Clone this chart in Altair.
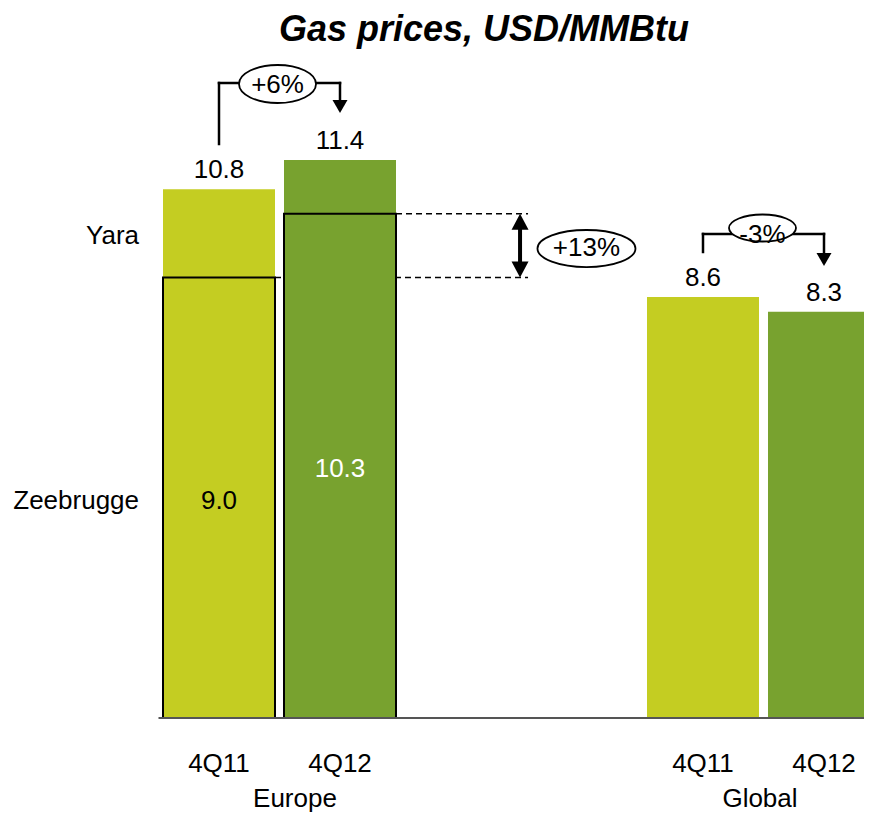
import altair as alt
import pandas as pd

# ---------------- data ----------------
slots = [0, 1, 4, 5]
periods = ["4Q11", "4Q12", "4Q11", "4Q12"]
regions = ["Europe", "Europe", "Global", "Global"]
totals = [10.8, 11.4, 8.6, 8.3]

zeebrugge_slots = [0, 1]
zeebrugge_periods = ["4Q11", "4Q12"]
zeebrugge = [9.0, 10.3]

row_labels = ["Yara", "Zeebrugge"]
row_label_y = [9.9, 4.5]
group_labels = ["Europe", "Global"]
group_label_x = [0.628, 4.471]

change_labels = ["+6%", "-3%", "+13%"]
change_x = [0.4835, 4.4917, 3.037]
change_y = [12.952, 10.01, 9.591]
change_text_y = [12.931, 9.871, 9.595]

bracket_x1 = [0, 0, 1, 4, 4, 5]
bracket_x2 = [0, 1, 1, 4, 5, 5]
bracket_y1 = [11.726, 12.972, 12.972, 9.520, 9.888, 9.888]
bracket_y2 = [12.972, 12.972, 12.60, 9.888, 9.888, 9.479]

head_x = [1, 5, 2.488, 2.488]
head_y = [12.492, 9.367, 10.137, 9.163]
head_dir = ["down", "down", "up", "down"]

shaft_x = [2.488]
shaft_y1 = [9.25]
shaft_y2 = [10.05]

dash_slots = [0, 1]
dash_end = [2.554, 2.554]
dash_y = [9.0, 10.3]

title_text = "Gas prices, USD/MMBtu"
title_x = [2.19]
title_y = [13.84]

# ---------------- styles ----------------
HALF = 0.4628
LIGHT = "#C4CD22"
DARK = "#78A22F"
FONT = "Liberation Sans"
FS = 26
ELLIPSES = [(77, 38), (67, 27), (98, 37)]
HEADS = [(15, 13), (15, 13), (17, 16), (17, 16)]

X_SCALE = alt.Scale(domain=[-1.7438, 5.3306], nice=False, zero=False)
Y_SCALE = alt.Scale(domain=[-1.9408, 14.5046], nice=False, zero=False)


def X(f):
    return alt.X(f, type="quantitative", scale=X_SCALE, axis=None)


def Y(f):
    return alt.Y(f, type="quantitative", scale=Y_SCALE, axis=None)


bars_df = pd.DataFrame({"slot": slots, "period": periods, "region": regions, "total": totals})
zee_df = pd.DataFrame({"slot": zeebrugge_slots, "period": zeebrugge_periods, "value": zeebrugge})

layers = []

# dashed reference lines (behind bars)
dash_df = pd.DataFrame({"s": dash_slots, "x2": dash_end, "y": dash_y})
layers.append(
    alt.Chart(dash_df)
    .transform_calculate(x1=f"datum.s + {HALF}")
    .mark_rule(color="black", strokeWidth=1.5, strokeDash=[6, 4])
    .encode(x=X("x1"), x2="x2:Q", y=Y("y"))
)

# bars
layers.append(
    alt.Chart(bars_df)
    .transform_calculate(x0=f"datum.slot - {HALF}", x1=f"datum.slot + {HALF}")
    .mark_bar(clip=True)
    .encode(
        x=X("x0"),
        x2="x1:Q",
        y=Y("total"),
        y2=alt.datum(0),
        color=alt.Color(
            "period:N",
            scale=alt.Scale(domain=["4Q11", "4Q12"], range=[LIGHT, DARK]),
            legend=None,
        ),
    )
)

# Zeebrugge outlines
layers.append(
    alt.Chart(zee_df)
    .transform_calculate(x0=f"datum.slot - {HALF}", x1=f"datum.slot + {HALF}")
    .mark_bar(fillOpacity=0, stroke="black", strokeWidth=2)
    .encode(x=X("x0"), x2="x1:Q", y=Y("value"), y2=alt.datum(0))
)

# baseline
base_df = pd.DataFrame({"x1": [-0.5], "x2": [5.6], "y": [0]})
layers.append(
    alt.Chart(base_df)
    .mark_rule(color="#555555", strokeWidth=2, clip=True)
    .encode(x=X("x1"), x2="x2:Q", y=Y("y"))
)

# value labels above bars
layers.append(
    alt.Chart(bars_df)
    .mark_text(font=FONT, fontSize=FS, baseline="alphabetic", align="center", dy=-11, color="black")
    .encode(x=X("slot"), y=Y("total"), text=alt.Text("total:Q", format=".1f"))
)

# inside labels
for per, col in [("4Q11", "black"), ("4Q12", "white")]:
    layers.append(
        alt.Chart(zee_df)
        .transform_filter(alt.datum.period == per)
        .transform_calculate(mid="datum.value / 2")
        .mark_text(font=FONT, fontSize=FS, baseline="middle", align="center", dy=3, color=col)
        .encode(x=X("slot"), y=Y("mid"), text=alt.Text("value:Q", format=".1f"))
    )

# row labels
row_df = pd.DataFrame({"label": row_labels, "y": row_label_y, "x": [-0.661, -0.661]})
layers.append(
    alt.Chart(row_df)
    .mark_text(font=FONT, fontSize=FS, baseline="middle", align="right", dy=3, color="black")
    .encode(x=X("x"), y=Y("y"), text="label:N")
)

# period labels
cat_df = bars_df.assign(ly=-1.103)
layers.append(
    alt.Chart(cat_df)
    .mark_text(font=FONT, fontSize=FS, baseline="alphabetic", align="center", color="black")
    .encode(x=X("slot"), y=Y("ly"), text="period:N")
)

# group labels
grp_df = pd.DataFrame({"label": group_labels, "x": group_label_x, "y": [-1.818, -1.818]})
layers.append(
    alt.Chart(grp_df)
    .mark_text(font=FONT, fontSize=FS, baseline="alphabetic", align="center", color="black")
    .encode(x=X("x"), y=Y("y"), text="label:N")
)

# brackets
br_df = pd.DataFrame({"x1": bracket_x1, "x2": bracket_x2, "y1": bracket_y1, "y2": bracket_y2})
layers.append(
    alt.Chart(br_df)
    .mark_rule(color="black", strokeWidth=2.5, strokeCap="square")
    .encode(x=X("x1"), x2="x2:Q", y=Y("y1"), y2="y2:Q")
)

# double arrow shaft
sh_df = pd.DataFrame({"x": shaft_x, "y1": shaft_y1, "y2": shaft_y2})
layers.append(
    alt.Chart(sh_df)
    .mark_rule(color="black", strokeWidth=4)
    .encode(x=X("x"), y=Y("y1"), y2="y2:Q")
)

# arrow heads
for hx, hy, hd, (w, h) in zip(head_x, head_y, head_dir, HEADS):
    k = round(h / w, 3)
    if hd == "down":
        path = f"M-1,-{k}L1,-{k}L0,{k}Z"
    else:
        path = f"M-1,{k}L1,{k}L0,-{k}Z"
    hdf = pd.DataFrame({"x": [hx], "y": [hy]})
    layers.append(
        alt.Chart(hdf)
        .mark_point(shape=path, size=w * w, filled=True, color="black", opacity=1, strokeWidth=0)
        .encode(x=X("x"), y=Y("y"))
    )

# ellipses with change labels
for lab, ex, ey, ty, (w, h) in zip(change_labels, change_x, change_y, change_text_y, ELLIPSES):
    a = round(h / w, 3)
    path = f"M-1,0A1,{a},0,1,0,1,0A1,{a},0,1,0,-1,0Z"
    edf = pd.DataFrame({"x": [ex], "y": [ey], "ty": [ty], "label": [lab]})
    layers.append(
        alt.Chart(edf)
        .mark_point(shape=path, size=w * w, filled=True, fill="white", stroke="black",
                    strokeWidth=1.8, opacity=1, fillOpacity=1, strokeOpacity=1)
        .encode(x=X("x"), y=Y("y"))
    )
    layers.append(
        alt.Chart(edf)
        .mark_text(font=FONT, fontSize=FS, baseline="middle", align="center", color="black")
        .encode(x=X("x"), y=Y("ty"), text="label:N")
    )

# title
t_df = pd.DataFrame({"label": [title_text], "x": title_x, "y": title_y})
layers.append(
    alt.Chart(t_df)
    .mark_text(font=FONT, fontSize=36, fontWeight="bold", fontStyle="italic",
               baseline="alphabetic", align="center", color="black")
    .encode(x=X("x"), y=Y("y"), text="label:N")
)

chart = (
    alt.layer(*layers)
    .properties(width=856, height=805, padding=0, autosize=alt.AutoSizeParams(type="none"))
    .configure_view(stroke=None)
)

chart.save("out.html", embed_options={"renderer": "svg", "actions": False})
